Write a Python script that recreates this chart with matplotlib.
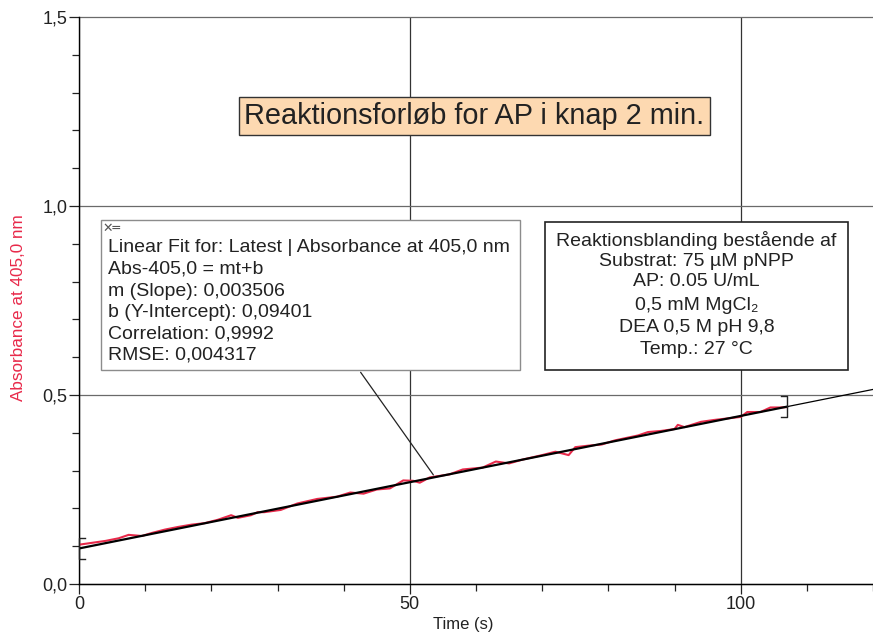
import matplotlib
matplotlib.use("Agg")
import matplotlib.pyplot as plt
from matplotlib.patches import Rectangle
from matplotlib.ticker import MultipleLocator, FuncFormatter

plt.rcParams['font.family'] = ['Liberation Sans', 'DejaVu Sans']

# ---- data ----
time_s = [0, 2, 4, 6, 7.5, 9.5, 11, 13, 15, 17, 19, 21, 23, 24, 26, 27, 28, 30.5, 33, 36,
          39, 41, 43, 45, 47, 49, 50.5, 51.5, 53, 56, 58, 61, 63, 65, 67, 70, 72, 74, 75,
          77, 79, 81, 84.5, 86, 88, 90, 90.5, 91.5, 94, 96, 98, 100, 101, 103, 104.5, 106, 107]
absorbance = [0.104, 0.109, 0.114, 0.121, 0.130, 0.127, 0.135, 0.144, 0.151, 0.157, 0.161,
              0.170, 0.182, 0.175, 0.182, 0.190, 0.190, 0.196, 0.213, 0.225, 0.231, 0.242,
              0.239, 0.250, 0.253, 0.274, 0.273, 0.268, 0.282, 0.290, 0.303, 0.308, 0.324,
              0.319, 0.329, 0.341, 0.350, 0.341, 0.362, 0.366, 0.369, 0.380, 0.393, 0.402,
              0.405, 0.410, 0.421, 0.415, 0.429, 0.434, 0.438, 0.442, 0.455, 0.455, 0.467,
              0.467, 0.468]
fit_m = 0.003506
fit_b = 0.09401
fit_range = [0, 107]
x_limits = [0, 120]
y_limits = [0, 1.5]

title_text = "Reaktionsforløb for AP i knap 2 min."
fit_lines = ["Linear Fit for: Latest | Absorbance at 405,0 nm",
             "Abs-405,0 = mt+b",
             "m (Slope): 0,003506",
             "b (Y-Intercept): 0,09401",
             "Correlation: 0,9992",
             "RMSE: 0,004317"]
info_lines = ["Reaktionsblanding bestående af",
              "Substrat: 75 µM pNPP",
              "AP: 0.05 U/mL",
              "0,5 mM MgCl\u2082",
              "DEA 0,5 M pH 9,8",
              "Temp.: 27 °C"]

W, H = 873, 634
fig = plt.figure(figsize=(W / 100, H / 100), dpi=100)
AX_L, AX_R, AX_T, AX_B = 79, 873, 17, 584
ax = fig.add_axes([AX_L / W, 1 - AX_B / H, (AX_R - AX_L) / W, (AX_B - AX_T) / H])
ax.set_xlim(*x_limits)
ax.set_ylim(*y_limits)

def afx(px):
    return (px - AX_L) / (AX_R - AX_L)

def afy(py):
    return (AX_B - py) / (AX_B - AX_T)

TXT = '#222222'

# grid
ax.xaxis.set_major_locator(MultipleLocator(50))
ax.xaxis.set_minor_locator(MultipleLocator(10))
ax.yaxis.set_major_locator(MultipleLocator(0.5))
ax.yaxis.set_minor_locator(MultipleLocator(0.1))
ax.xaxis.grid(True, which='major', color='#333333', lw=0.9)
ax.yaxis.grid(True, which='major', color='#6a6a6a', lw=0.9, clip_on=False)
ax.set_axisbelow(True)

for s in ['top', 'right']:
    ax.spines[s].set_visible(False)
for s in ['left', 'bottom']:
    ax.spines[s].set_linewidth(1.0)

ax.tick_params(which='major', direction='out', length=7, width=0.9, labelsize=13, pad=1.5,
               colors=TXT)
ax.tick_params(which='minor', direction='out', length=5, width=0.9, colors=TXT)
ax.yaxis.set_major_formatter(FuncFormatter(lambda v, p: f"{v:.1f}".replace('.', ',')))
ax.xaxis.set_major_formatter(FuncFormatter(lambda v, p: f"{v:.0f}"))

# data
ax.plot(time_s, absorbance, color='#e8294a', lw=1.5, zorder=3)
fx0, fx1 = fit_range
ax.plot([fx0, fx1], [fit_m * fx0 + fit_b, fit_m * fx1 + fit_b], color='black', lw=1.6, zorder=4)
ax.plot([fx1, x_limits[1]], [fit_m * fx1 + fit_b, fit_m * x_limits[1] + fit_b],
        color='black', lw=0.9, zorder=4, clip_on=False)
# fit-range brackets
for xb, d in [(fx0, 1), (fx1, -1)]:
    yc = fit_m * xb + fit_b
    ax.plot([xb + d * 0.9, xb, xb, xb + d * 0.9], [yc + 0.028, yc + 0.028, yc - 0.028, yc - 0.028],
            color=TXT, lw=1.0, zorder=5, clip_on=False)

# axis labels
fig.text(463 / W, 1 - 625 / H, "Time (s)", ha='center', va='center', fontsize=12, color=TXT)
fig.text(19 / W, 1 - 308 / H, "Absorbance at 405,0 nm", ha='center', va='center',
         rotation=90, fontsize=12.3, color='#e8294a')

# title box
ax.text(afx(474.5), afy(116), title_text, transform=ax.transAxes, ha='center', va='center',
        fontsize=20.8, color=TXT, zorder=10,
        bbox=dict(boxstyle='square,pad=0.18', fc='#fdd9b1', ec='#333333', lw=1.0))

# connector from fit box to fit line
t_conn = 53.8
bx, by = 359, 370
ax.annotate("", xy=(t_conn, fit_m * t_conn + fit_b), xycoords='data',
            xytext=(afx(bx), afy(by)), textcoords='axes fraction',
            arrowprops=dict(arrowstyle='-', color=TXT, lw=0.9), zorder=6)

# fit statistics box
ax.add_patch(Rectangle((afx(101), afy(370)), afx(520) - afx(101), afy(220) - afy(370),
                       transform=ax.transAxes, fc='white', ec='#8c8c8c', lw=1.0, zorder=8))
ax.text(afx(102), afy(228), "\u2715\u2550", transform=ax.transAxes, ha='left', va='center',
        fontsize=9, fontweight='bold', color='#555555', zorder=9, family=['DejaVu Sans'])
for i, line in enumerate(fit_lines):
    ax.text(afx(108), afy(248 + i * 21.5), line, transform=ax.transAxes, ha='left', va='center',
            fontsize=14, color=TXT, zorder=9)

# composition box
ax.add_patch(Rectangle((afx(545), afy(370)), afx(848) - afx(545), afy(222) - afy(370),
                       transform=ax.transAxes, fc='white', ec=TXT, lw=1.2, zorder=8))
info_y = [240, 261, 282, 305, 328, 349]
for yy, line in zip(info_y, info_lines):
    ax.text(afx(696.5), afy(yy), line, transform=ax.transAxes, ha='center', va='center',
            fontsize=14, color=TXT, zorder=9)

fig.savefig("out.png", dpi=100)
